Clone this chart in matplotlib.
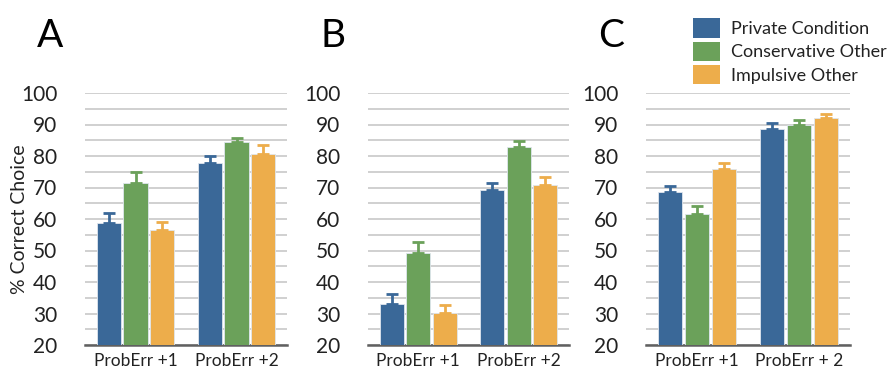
import numpy as np
import matplotlib
matplotlib.use("Agg")
import matplotlib.pyplot as plt
from matplotlib.patches import Patch

plt.rcParams['font.family'] = ['Lato', 'DejaVu Sans']

groups = ["ProbErr +1", "ProbErr +2"]
groups_c = ["ProbErr +1", "ProbErr + 2"]
series = ["Private Condition", "Conservative Other", "Impulsive Other"]
colors = ["#3A6898", "#6BA15A", "#EDAD4B"]

# mean values [series][group]
mean_a = [[58.7, 77.9], [71.5, 84.4], [56.5, 80.7]]
err_a = [[3.3, 2.1], [3.3, 1.2], [2.6, 2.8]]
mean_b = [[32.9, 69.3], [49.3, 82.9], [30.1, 70.7]]
err_b = [[3.3, 2.0], [3.4, 1.9], [2.6, 2.6]]
mean_c = [[68.6, 88.7], [61.5, 90.0], [75.8, 92.2]]
err_c = [[1.9, 1.8], [2.6, 1.3], [1.9, 1.1]]

panels = [("A", mean_a, err_a, groups), ("B", mean_b, err_b, groups), ("C", mean_c, err_c, groups_c)]
lefts = [85, 368, 646]
widths = [202, 201, 204]

W, H = 889, 373
fig = plt.figure(figsize=(W / 100, H / 100), dpi=100)

x = np.arange(2)
bw = 0.24
step = 0.265

for (letter, means, errs, labels), lx, w in zip(panels, lefts, widths):
    ax = fig.add_axes([lx / W, 1 - 345 / H, w / W, (345 - 93) / H])
    for i in range(3):
        pos = x + (i - 1) * step
        ax.bar(pos, means[i], bw, bottom=0, color=colors[i], edgecolor="#dfe6ee",
               linewidth=0.6, zorder=3)
        ax.errorbar(pos, means[i], yerr=[np.zeros(2), errs[i]], fmt="none",
                    ecolor=colors[i], elinewidth=2, capsize=4, capthick=2, zorder=4)
    ax.set_ylim(20, 100)
    ax.set_xlim(-0.5, 1.5)
    ax.set_yticks(np.arange(20, 101, 10))
    ax.set_yticks(np.arange(25, 100, 10), minor=True)
    ax.yaxis.grid(True, which="both", color="#c8c8c8", linewidth=1.2, zorder=0)
    ax.set_axisbelow(True)
    for s in ["top", "right", "left"]:
        ax.spines[s].set_visible(False)
    ax.spines["bottom"].set_color("#606060")
    ax.spines["bottom"].set_linewidth(1.8)
    ax.tick_params(axis="y", which="both", length=0, labelsize=15, pad=20, labelcolor="#222222")
    ax.tick_params(axis="x", length=0, labelsize=12.5, pad=6, labelcolor="#222222")
    ax.set_xticks(x)
    ax.set_xticklabels(labels)
    fig.text((lx - 48) / W, 1 - 47 / H, letter, fontsize=28, fontweight="normal", color="black")
    if letter == "A":
        ax.set_ylabel("% Correct Choice", fontsize=14, color="#222222", va="center")
        ax.yaxis.set_label_coords(-(85 - 20) / w, 0.5)

handles = [Patch(facecolor=c, edgecolor="none") for c in colors]
fig.legend(handles, series, loc="upper left", bbox_to_anchor=(686 / W, 1 - 11 / H),
           frameon=False, fontsize=13, handlelength=1.5, handleheight=1.3,
           handletextpad=0.6, labelspacing=0.2, borderaxespad=0, labelcolor="#222222")

fig.savefig("out.png", dpi=100)
